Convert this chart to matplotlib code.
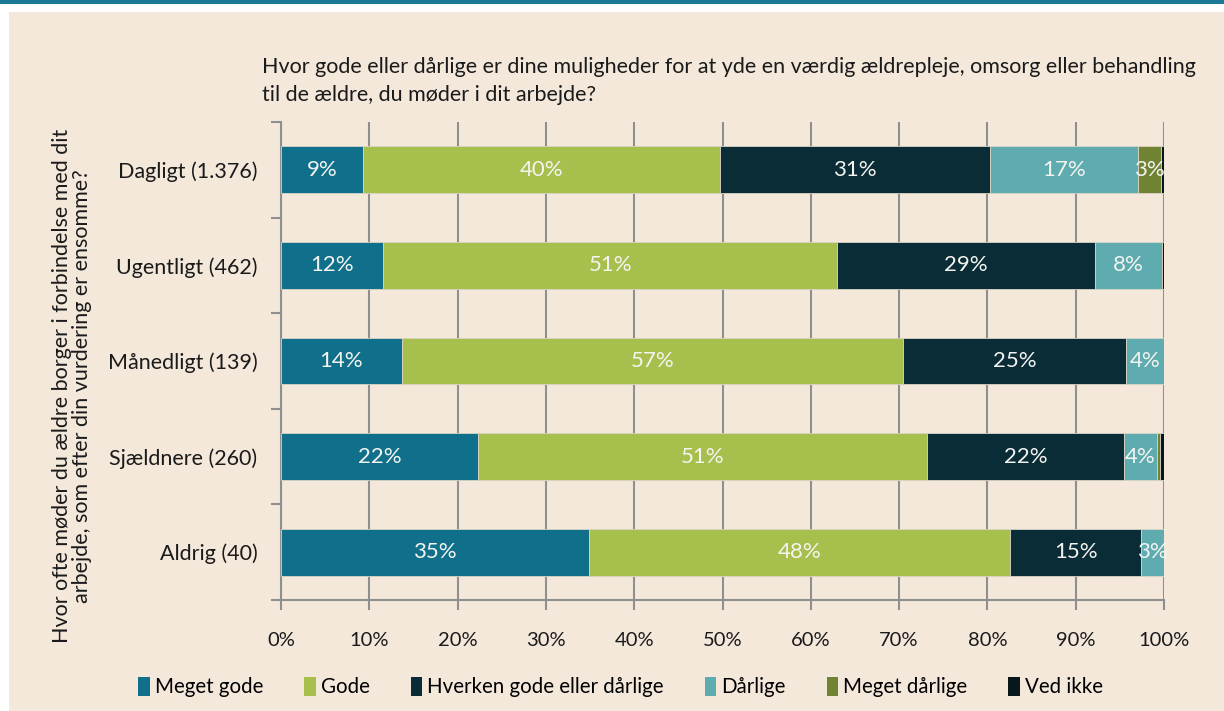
import numpy as np
import matplotlib
matplotlib.use('Agg')
import matplotlib.pyplot as plt
from matplotlib.patches import Rectangle, Patch

# categories (top to bottom)
categories = ['Dagligt (1.376)', 'Ugentligt (462)', 'Månedligt (139)', 'Sjældnere (260)', 'Aldrig (40)']
series_names = ['Meget gode', 'Gode', 'Hverken gode eller dårlige', 'Dårlige', 'Meget dårlige', 'Ved ikke']

meget_gode = [9.3, 11.6, 13.7, 22.3, 34.9]
gode = [40.4, 51.4, 56.7, 50.9, 47.7]
hverken = [30.6, 29.2, 25.3, 22.3, 14.8]
daarlige = [16.8, 7.6, 4.3, 3.7, 2.6]
meget_daarlige = [2.6, 0.0, 0.0, 0.4, 0.0]
ved_ikke = [0.3, 0.2, 0.0, 0.4, 0.0]

colors = ['#106f8b', '#a7bf4d', '#092c37', '#5eabb0', '#6f8333', '#07171c']
bg = '#f4e8db'

title = ('Hvor gode eller dårlige er dine muligheder for at yde en værdig ældrepleje, omsorg eller behandling\n'
         'til de ældre, du møder i dit arbejde?')
ylab = 'Hvor ofte møder du ældre borger i forbindelse med dit\narbejde, som efter din vurdering er ensomme?'

plt.rcParams['font.family'] = ['Lato', 'DejaVu Sans']

fig = plt.figure(figsize=(12.24, 7.11), dpi=100)
fig.patch.set_facecolor('white')
# beige panel + teal band on top
fig.patches.append(Rectangle((9 / 1224, 0), 1 - 9 / 1224, 1 - 12 / 711, transform=fig.transFigure,
                             facecolor=bg, edgecolor='none', zorder=-10))
fig.patches.append(Rectangle((0, 1 - 3.5 / 711), 1, 3.5 / 711, transform=fig.transFigure,
                             facecolor='#1b7b96', edgecolor='none', zorder=-10))

ax = fig.add_axes([281 / 1224, 1 - 600 / 711, (1164 - 281) / 1224, (600 - 122) / 711])
ax.set_facecolor(bg)

data = [meget_gode, gode, hverken, daarlige, meget_daarlige, ved_ikke]
y = np.arange(len(categories))
left = np.zeros(len(categories))
for name, vals, c in zip(series_names, data, colors):
    vals = np.array(vals)
    ax.barh(y, vals, left=left, height=0.49, color=c, edgecolor='#d9d4c4', linewidth=0.6, zorder=3, label=name)
    for yi, (l, v) in enumerate(zip(left, vals)):
        if v >= 2.5:
            ax.text(l + v / 2, yi, f'{round(v):.0f}%', ha='center', va='center',
                    color='#f4f4f0', fontsize=16, zorder=4)
    left += vals

ax.set_xlim(0, 100)
ax.set_ylim(len(categories) - 0.5, -0.5)
ax.set_xticks(np.arange(0, 101, 10))
ax.set_xticklabels([f'{v}%' for v in range(0, 101, 10)], fontsize=14.5, color='#1a1a1a')
ax.xaxis.grid(True, color='#8f8f8f', linewidth=1.5, zorder=0)
ax.set_axisbelow(True)

ax.set_yticks(y)
ax.set_yticklabels(categories, fontsize=15.5, color='#1a1a1a')
ax.tick_params(axis='y', length=0, pad=17)
ax.set_yticks(np.arange(-0.5, len(categories)), minor=True)
ax.tick_params(axis='y', which='minor', length=7, width=1.5, color='#8f8f8f')
ax.tick_params(axis='x', length=7, width=1.5, color='#8f8f8f', pad=16)

for s in ['top', 'right']:
    ax.spines[s].set_visible(False)
for s in ['left', 'bottom']:
    ax.spines[s].set_color('#8f8f8f')
    ax.spines[s].set_linewidth(1.5)

fig.text(262 / 1224, 1 - 57 / 711, title, ha='left', va='top', fontsize=15.5, color='#1a1a1a',
         linespacing=1.5)
fig.text(72 / 1224, 1 - 386 / 711, ylab, ha='center', va='center', rotation=90, fontsize=15.5,
         color='#1a1a1a', linespacing=1.05)

handles = [Patch(facecolor=c, edgecolor='none') for c in colors]
fig.legend(handles, series_names, loc='center', bbox_to_anchor=(0.507, 1 - 687 / 711), ncol=6,
           frameon=False, fontsize=14.8, handlelength=0.55, handleheight=1.1, handletextpad=0.25,
           columnspacing=2.0)

fig.savefig('out.png', dpi=100, facecolor=fig.get_facecolor())
